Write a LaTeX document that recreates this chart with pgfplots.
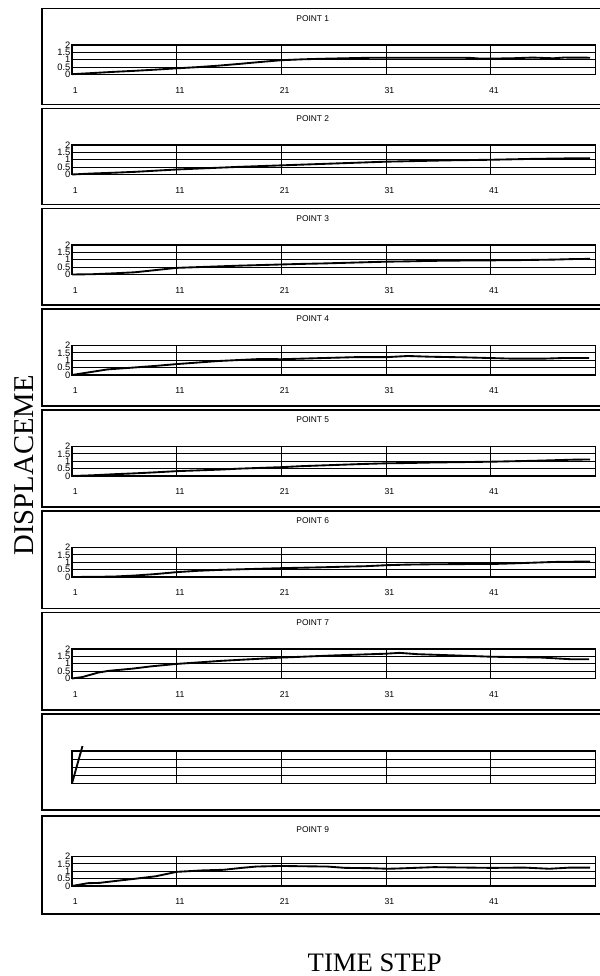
\documentclass[border=0pt]{standalone}
\usepackage{pgfplots}
\pgfplotsset{compat=1.18}
\usepackage{fontspec}
\setmainfont{Liberation Serif}
\newfontfamily\arial{Liberation Sans}

\pgfplotsset{
  panel/.style={
    at={(#1)}, anchor=south west, scale only axis,
    width=392.5pt, height=22.1pt,
    xmin=1, xmax=51, ymin=0, ymax=2,
    xtick={1,11,21,31,41}, ytick={0,0.5,1,1.5,2},
    xmajorgrids, ymajorgrids,
    grid style={black, line width=0.6pt},
    axis line style={line width=0.9pt},
    major tick length=0pt,
    tick label style={font=\arial\fontsize{6.5}{6.5}\selectfont},
    /pgf/number format/assume math mode=true,
    xticklabel style={xshift=2.5pt, yshift=-6pt},
    yticklabel style={inner sep=1pt, font=\arial\fontsize{7}{7}\selectfont},
    title style={font=\arial\fontsize{6.3}{7}\selectfont, at={(0.46,1)}, anchor=center, yshift=14pt},
    clip=false,
  },
  dline/.style={black, line width=1.4pt, line join=round},
}

\begin{document}
\begin{tikzpicture}[x=0.75pt,y=0.75pt]
\path[use as bounding box] (0,0) rectangle (600,976);
% panel frames
\foreach \t/\b in {8.5/104.5, 108.5/204.5, 208.5/305, 309/406, 410/507, 511/608.5, 612.5/710, 714/810, 816/914}{
  \draw[line width=0.8pt] (42,976-\t) rectangle (603,976-\b);
}
\coordinate (a1) at (72,901.5);
\coordinate (a2) at (72,801.5);
\coordinate (a3) at (72,701.5);
\coordinate (a4) at (72,601);
\coordinate (a5) at (72,500);
\coordinate (a6) at (72,399);
\coordinate (a7) at (72,297.5);
\coordinate (a8) at (72,192.5);
\coordinate (a9) at (72,90);
\node[font=\fontsize{21.5}{23}\selectfont, rotate=90, anchor=base west] at (33,416) {DISPLACEME};
\node[font=\fontsize{20}{22}\selectfont, anchor=base west] at (303,5) {TIME STEP};

% Panel 1
\begin{axis}[panel={a1}, title={POINT 1}]
\addplot[dline] coordinates {(1,0.02)(3,0.1)(5,0.18)(7,0.25)(9,0.33)(11,0.42)(13,0.5)(15,0.6)(17,0.72)(19,0.85)(21,0.97)(23,1.03)(25,1.07)(27,1.1)(29,1.13)(31,1.14)(33,1.14)(35,1.14)(37,1.14)(39,1.13)(40,1.08)(41,1.08)(43,1.1)(45,1.15)(47,1.1)(48,1.15)(50.5,1.14)};
\end{axis}
% Panel 2
\begin{axis}[panel={a2}, title={POINT 2}]
\addplot[dline] coordinates {(1,0)(3,0.07)(5,0.12)(7,0.18)(9,0.26)(11,0.34)(13,0.4)(15,0.46)(17,0.52)(19,0.57)(21,0.62)(23,0.67)(25,0.72)(27,0.77)(29,0.82)(31,0.87)(33,0.9)(35,0.93)(37,0.96)(39,0.98)(41,1.0)(43,1.03)(45,1.06)(47,1.08)(49,1.1)(50.5,1.1)};
\end{axis}
% Panel 3
\begin{axis}[panel={a3}, title={POINT 3}]
\addplot[dline] coordinates {(1,0)(3,0.02)(5,0.08)(7,0.15)(9,0.3)(11,0.45)(13,0.5)(15,0.55)(17,0.6)(19,0.64)(21,0.68)(23,0.72)(25,0.75)(27,0.79)(29,0.83)(31,0.87)(33,0.89)(35,0.92)(37,0.94)(39,0.95)(41,0.96)(43,0.97)(45,0.99)(47,1.01)(49,1.05)(50.5,1.06)};
\end{axis}
% Panel 4
\begin{axis}[panel={a4}, title={POINT 4}]
\addplot[dline] coordinates {(1,0)(4.4,0.38)(6.4,0.48)(9.2,0.63)(11,0.74)(15,0.95)(19.1,1.09)(21,1.07)(24.9,1.15)(28,1.21)(31,1.21)(33.1,1.29)(35.2,1.24)(38.3,1.2)(40,1.17)(41,1.15)(43,1.11)(46.1,1.11)(47.8,1.15)(50.4,1.15)};
\end{axis}
% Panel 5
\begin{axis}[panel={a5}, title={POINT 5}]
\addplot[dline] coordinates {(1,0)(3,0.05)(5,0.12)(7,0.18)(9,0.25)(11,0.33)(13,0.38)(15,0.43)(17,0.5)(19,0.55)(21,0.6)(23,0.67)(25,0.72)(27,0.77)(29,0.82)(31,0.86)(33,0.88)(35,0.91)(37,0.93)(39,0.95)(41,0.97)(43,1.0)(45,1.03)(47,1.07)(49,1.11)(50.5,1.12)};
\end{axis}
% Panel 6
\begin{axis}[panel={a6}, title={POINT 6}]
\addplot[dline] coordinates {(1,0)(3,0.01)(5,0.03)(7,0.1)(9,0.2)(11,0.33)(13,0.42)(15,0.48)(17,0.52)(19,0.56)(21,0.6)(23,0.63)(25,0.66)(27,0.7)(29,0.73)(31,0.8)(33,0.84)(35,0.86)(37,0.87)(39,0.88)(41,0.88)(43,0.92)(45,0.97)(47,1.02)(49,1.04)(50.5,1.04)};
\end{axis}
% Panel 7
\begin{axis}[panel={a7}, title={POINT 7}]
\addplot[dline] coordinates {(1,0)(2,0.1)(3.5,0.4)(4.5,0.52)(6.8,0.67)(8.5,0.82)(11,0.99)(15.3,1.2)(21,1.42)(26.2,1.57)(30.9,1.68)(32.3,1.74)(34,1.65)(37.4,1.57)(41,1.48)(45.9,1.42)(48.6,1.31)(50.4,1.31)};
\end{axis}
% Panel 8
\begin{axis}[panel={a8}, height=24.4pt, xticklabels={}, yticklabels={}]
\addplot[dline] coordinates {(1,0)(2,2.3)};
\end{axis}
% Panel 9
\begin{axis}[panel={a9}, title={POINT 9}]
\addplot[dline] coordinates {(1,0)(2.5,0.19)(3.6,0.21)(4.9,0.32)(7,0.49)(9,0.66)(11,0.96)(13.5,1.06)(15.5,1.1)(17.2,1.23)(18.6,1.32)(21,1.36)(23,1.34)(25.4,1.32)(27.1,1.23)(29.5,1.21)(31.2,1.17)(32.2,1.19)(35.6,1.28)(37.7,1.26)(41.1,1.23)(44.2,1.25)(46.6,1.17)(48.6,1.25)(50.5,1.25)};
\end{axis}
\end{tikzpicture}
\end{document}
